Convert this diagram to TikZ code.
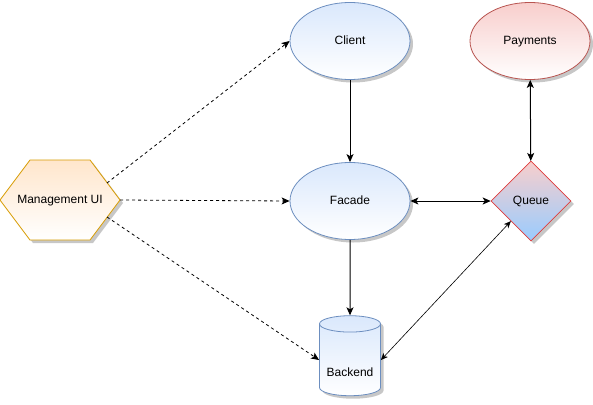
\documentclass[tikz,border=0pt]{standalone}
\usepackage{fontspec}
\setmainfont{Liberation Sans}
\usetikzlibrary{shapes.geometric,shadows,arrows.meta}
\definecolor{bluefill}{HTML}{DAE8FC}
\definecolor{blueline}{HTML}{6C8EBF}
\definecolor{redfill}{HTML}{F8CECC}
\definecolor{redline}{HTML}{B85450}
\definecolor{orangefill}{HTML}{FFE6CC}
\definecolor{orangeline}{HTML}{D79B00}
\definecolor{queueblue}{HTML}{99CCFF}
\definecolor{queueline}{HTML}{E03C3C}
\begin{document}
\begin{tikzpicture}[x=1pt,y=-1pt,font=\fontsize{12}{14}\selectfont,
  every node/.style={text height=8.6pt,text depth=2.4pt},
  shad/.style={drop shadow={shadow xshift=3pt,shadow yshift=-3pt,fill=black,opacity=0.22}},
  bluenode/.style={draw=blueline,top color=bluefill,bottom color=white,shad,line width=0.8pt},
  ell/.style={ellipse,minimum width=120pt,minimum height=77pt,inner sep=0pt},
  arr/.style={-{Stealth[length=8pt,width=7pt,inset=2pt]},line width=1pt},
  darr/.style={{Stealth[length=8pt,width=7pt,inset=2pt]}-{Stealth[length=8pt,width=7pt,inset=2pt]},line width=1pt},
  tarr/.style={{Stealth[length=7pt,width=6pt,inset=2pt]}-{Stealth[length=7pt,width=6pt,inset=2pt]},line width=0.6pt},
  dasharr/.style={-{Stealth[length=8pt,width=7pt,inset=2pt]},line width=0.8pt,dash pattern=on 3pt off 3pt}]
\useasboundingbox (0,0) rectangle (593,404);

\node[ell,bluenode] (client) at (350,41) {Client};
\node[ell,draw=redline,top color=redfill,bottom color=white,shad,line width=0.8pt] (payments) at (530,41) {Payments};
\node[ell,bluenode] (facade) at (350,201) {Facade};
\node[diamond,aspect=1,minimum width=80pt,minimum height=80pt,inner sep=0pt,draw=queueline,top color=redfill,bottom color=queueblue,shad,line width=0.6pt] (queue) at (531,201) {Queue};
\node[cylinder,shape border rotate=90,aspect=0.35,minimum width=61pt,minimum height=80pt,inner sep=0pt,bluenode,
  label={[yshift=-13pt]center:Backend}] (backend) at (350,360) {\phantom{Backend}};

\path[draw=orangeline,top color=orangefill,bottom color=white,shad,line width=0.8pt]
  (0,200) -- (30,160) -- (90,160) -- (120,200) -- (90,240) -- (30,240) -- cycle;
\node (mgmt) at (60,200) {Management UI};
\coordinate (m1) at (107,183);
\coordinate (m2) at (120,200);
\coordinate (m3) at (107,217);

\draw[arr] (client) -- (facade);
\draw[arr] (facade) -- (backend);
\draw[darr] (facade) -- (queue);
\draw[darr] (payments) -- (queue);
\draw[tarr] (queue.south west) -- (backend.east);
\draw[dasharr] (m1) -- (client.west);
\draw[dasharr] (m2) -- (facade.west);
\draw[dasharr] (m3) -- (backend.west);
\end{tikzpicture}
\end{document}
